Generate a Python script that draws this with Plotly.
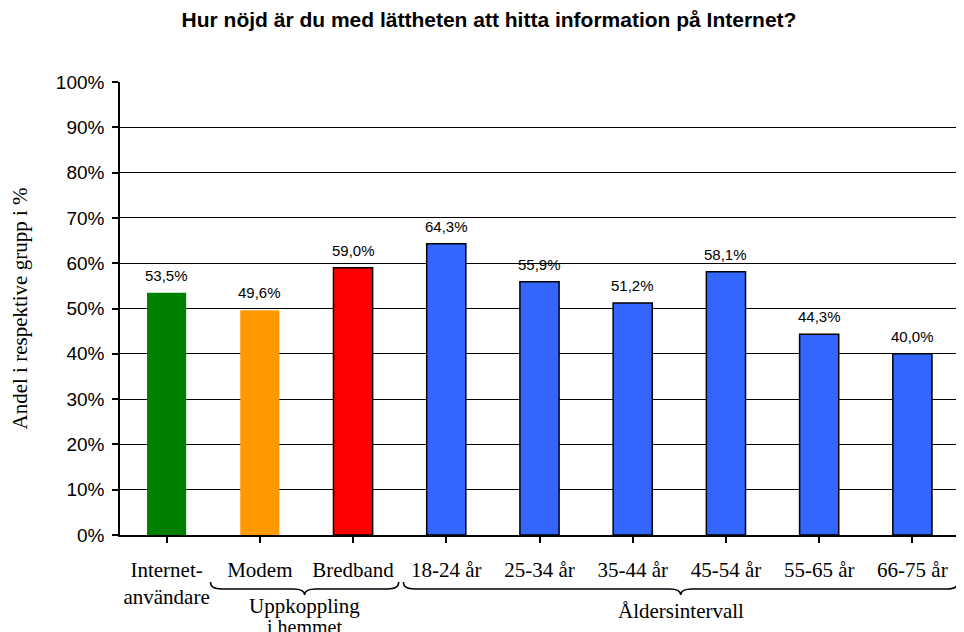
import plotly.graph_objects as go

categories = ["Internet-<br>användare", "Modem", "Bredband", "18-24 år", "25-34 år",
              "35-44 år", "45-54 år", "55-65 år", "66-75 år"]
values = [53.5, 49.6, 59.0, 64.3, 55.9, 51.2, 58.1, 44.3, 40.0]
colors = ["#008000", "#FF9900", "#FF0000", "#3366FF", "#3366FF", "#3366FF",
          "#3366FF", "#3366FF", "#3366FF"]
outline = [0, 0, 1.5, 1.5, 1.5, 1.5, 1.5, 1.5, 1.5]
y_ticks = [0, 10, 20, 30, 40, 50, 60, 70, 80, 90, 100]
y_ticktext = [f"{v}%" for v in y_ticks]

title = "Hur nöjd är du med lättheten att hitta information på Internet?"
y_title = "Andel i respektive grupp i %"
groups = [("Uppkoppling", "i hemmet", 1, 2), ("Åldersintervall", None, 3, 8)]

SERIF = "Liberation Serif, Times New Roman, serif"
SANS = "Liberation Sans, Arial, sans-serif"

# page body has an 8px margin; work in figure coordinates
OFF = 8
W, H = 964 - OFF, 632 - OFF
PL, PR, PT, PB = 120 - OFF, 959 - OFF, 81.5 - OFF, 535 - OFF

fig = go.Figure()
fig.add_trace(go.Bar(
    x=list(range(len(categories))), y=values,
    marker=dict(color=colors, line=dict(color="black", width=outline)),
    width=0.42, hoverinfo="skip", showlegend=False,
))

# data labels
for i, v in enumerate(values):
    fig.add_annotation(x=i, y=v, xref="x", yref="y", text=f"{v:.1f}%".replace(".", ","),
                       showarrow=False, yanchor="bottom", yshift=7,
                       font=dict(family=SANS, size=15, color="black"))

def py(p):
    """window pixel y -> paper y"""
    return (PB - (p - OFF)) / (PB - PT)

# braces
for label, label2, a, b in groups:
    x0, x1 = a - 0.53, b + 0.49
    if a == 3:
        x0 = a - 0.46
    xm = (x0 + x1) / 2
    ye, yb, yt = py(582), py(589), py(595)
    d = 0.12
    path = (f"M {x0},{ye} Q {x0},{yb} {x0+d},{yb} L {xm-d},{yb} Q {xm},{yb} {xm},{yt} "
            f"Q {xm},{yb} {xm+d},{yb} L {x1-d},{yb} Q {x1},{yb} {x1},{ye}")
    fig.add_shape(type="path", path=path, xref="x", yref="paper",
                  line=dict(color="black", width=1.5))
    fig.add_annotation(x=xm, y=py(606 if label2 else 611), xref="x", yref="paper", text=label,
                       showarrow=False, yanchor="middle",
                       font=dict(family=SERIF, size=21, color="black"))
    if label2:
        fig.add_annotation(x=xm, y=py(627), xref="x", yref="paper", text=label2,
                           showarrow=False, yanchor="middle",
                           font=dict(family=SERIF, size=20, color="black"))

fig.update_layout(
    width=W, height=H,
    margin=dict(l=PL, r=W - PR, t=PT, b=H - PB, autoexpand=False),
    paper_bgcolor="white", plot_bgcolor="white",
    title=dict(text=f"<b>{title}</b>", x=(489 - OFF) / W, xanchor="center",
               y=1 - (20 - OFF) / H, yanchor="middle",
               font=dict(family=SANS, size=21, color="black")),
    separators=",.",
)
fig.update_xaxes(
    tickmode="array", tickvals=list(range(len(categories))), ticktext=categories,
    range=[-0.5, len(categories) - 0.5],
    showline=True, linecolor="black", linewidth=1.5,
    ticks="outside", tickson="boundaries", ticklen=6, tickcolor="black", tickwidth=1.5,
    showgrid=False, zeroline=False, ticklabelstandoff=9,
    tickfont=dict(family=SERIF, size=21, color="black"),
)
fig.update_yaxes(
    range=[0, 100], tickmode="array", tickvals=y_ticks, ticktext=y_ticktext,
    showline=True, linecolor="black", linewidth=1.5,
    ticks="outside", ticklen=6, tickcolor="black", tickwidth=1.5,
    showgrid=True, gridcolor="black", gridwidth=1, zeroline=False,
    ticklabelstandoff=4,
    tickfont=dict(family=SANS, size=19, color="black"),
    title=dict(text=y_title, font=dict(family=SERIF, size=21, color="black"), standoff=22),
)

fig.write_html("out.html")
